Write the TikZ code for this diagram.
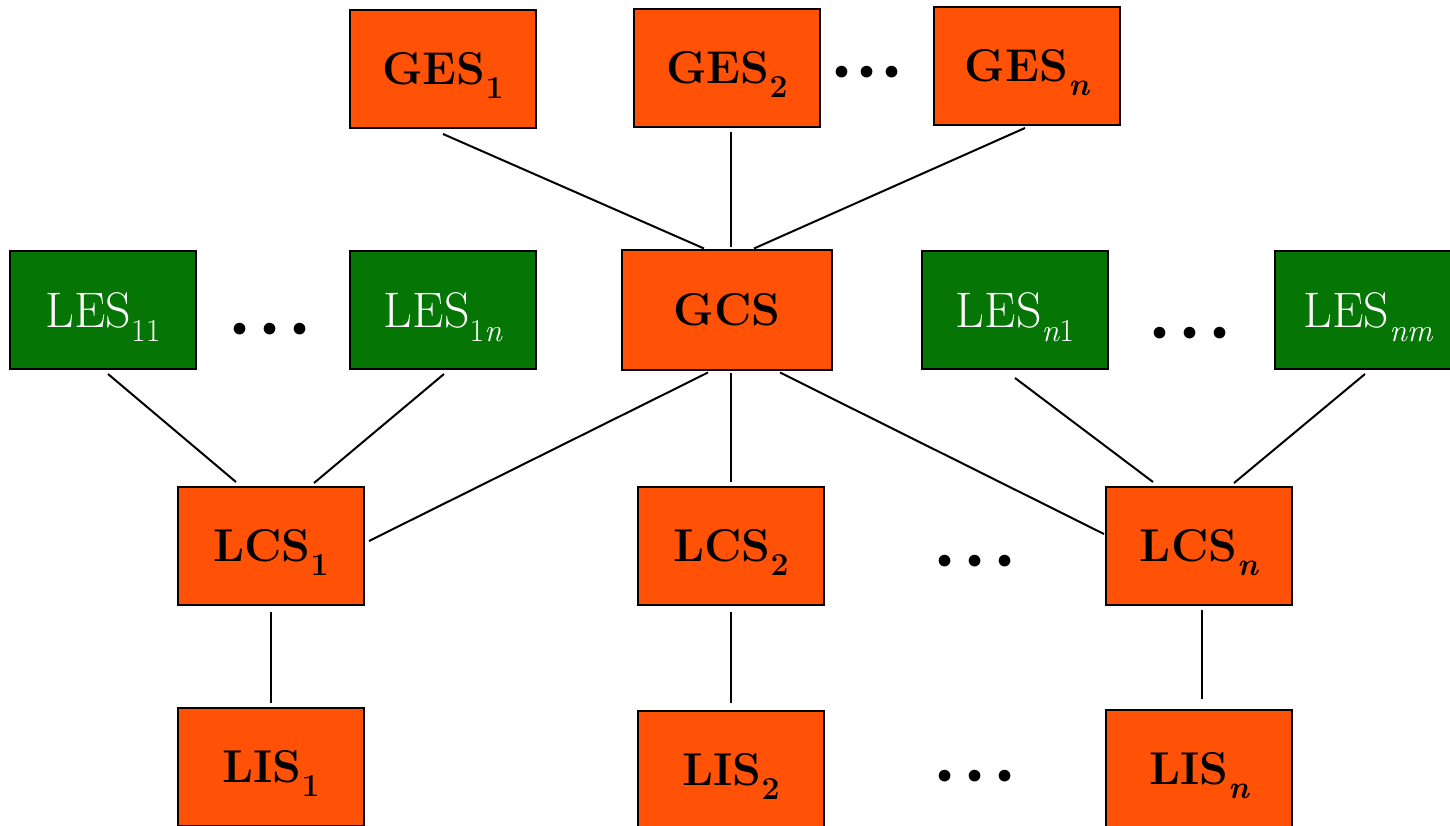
\documentclass[tikz,border=0pt]{standalone}
\usepackage{fontspec}
\usetikzlibrary{calc}
\definecolor{orangebox}{HTML}{FF5206}
\definecolor{greenbox}{HTML}{057605}
\newcommand{\sbx}[1]{\raisebox{-14pt}[0pt][0pt]{\fontsize{32}{34}\selectfont #1}}
\newcommand{\threedots}[1]{\textbullet\hspace{#1}\textbullet\hspace{#1}\textbullet}
\begin{document}
\begin{tikzpicture}[x=1pt,y=-1pt,
  obox/.style={draw=black,line width=2pt,fill=orangebox,minimum width=186pt,minimum height=118pt,inner sep=0pt,
    font=\fontsize{46}{50}\selectfont\bfseries,text=black},
  gbox/.style={draw=black,line width=2pt,fill=greenbox,minimum width=186pt,minimum height=118pt,inner sep=0pt,
    font=\fontsize{50}{54}\selectfont,text=white},
  dotsnode/.style={inner sep=0pt,font=\fontsize{40}{42}\selectfont\bfseries},
  link/.style={line width=2pt,black}]
\useasboundingbox (0,0) rectangle (1450,826);
% top row
\node[obox] (ges1) at (443,69) {GES\sbx{1}};
\node[obox] (ges2) at (727,68) {GES\sbx{2}};
\node[obox] (gesn) at (1027,66) {GES\sbx{\itshape n}};
\node[dotsnode] (d1) at (867,74) {\threedots{-10pt}};
% second row
\node[gbox] (les11) at (103,310) {LES\sbx{11}};
\node[dotsnode] (d2) at (270,331) {\threedots{-5pt}};
\node[gbox] (les1n) at (443,310) {LES\sbx{1\itshape n}};
\node[obox,minimum width=210pt,minimum height=119pt] (gcs) at (727,310) {GCS};
\node[gbox] (lesn1) at (1015,310) {LES\sbx{\itshape n\upshape 1}};
\node[dotsnode] (d3) at (1190,335) {\threedots{-5pt}};
\node[gbox] (lesnm) at (1368,310) {LES\sbx{\itshape nm}};
% third row
\node[obox] (lcs1) at (271,546) {LCS\sbx{1}};
\node[obox] (lcs2) at (731,546) {LCS\sbx{2}};
\node[dotsnode] (d4) at (975,563) {\threedots{-5pt}};
\node[obox] (lcsn) at (1199,546) {LCS\sbx{\itshape n}};
% bottom row
\node[obox] (lis1) at (271,767) {LIS\sbx{1}};
\node[obox] (lis2) at (731,770) {LIS\sbx{2}};
\node[dotsnode] (d5) at (975,778) {\threedots{-5pt}};
\node[obox] (lisn) at (1199,769) {LIS\sbx{\itshape n}};
% connectors
\draw[link] ($(ges1.south)+(0,5)$) -- ($(gcs.north)+(-23,-1)$);
\draw[link] ($(ges2.south)+(4,4)$) -- ($(gcs.north)+(4,-2)$);
\draw[link] ($(gesn.south)+(-2,2)$) -- ($(gcs.north)+(27,-1)$);
\draw[link] ($(les11.south)+(5,4)$) -- ($(lcs1.north)+(-35,-4)$);
\draw[link] ($(les1n.south)+(1,4)$) -- ($(lcs1.north)+(43,-3)$);
\draw[link] ($(gcs.south)+(-19,2)$) -- ($(lcs1.east)+(4,-5)$);
\draw[link] ($(gcs.south)+(4,2)$) -- ($(lcs2.north)+(0,-4)$);
\draw[link] ($(gcs.south)+(53,2)$) -- ($(lcsn.west)+(-1,-12)$);
\draw[link] ($(lesn1.south)+(0,8)$) -- ($(lcsn.north)+(-46,-4)$);
\draw[link] ($(lesnm.south)+(-3,4)$) -- ($(lcsn.north)+(35,-3)$);
\draw[link] ($(lcs1.south)+(0,6)$) -- ($(lis1.north)+(0,-4)$);
\draw[link] ($(lcs2.south)+(0,6)$) -- ($(lis2.north)+(0,-7)$);
\draw[link] ($(lcsn.south)+(3,4)$) -- ($(lisn.north)+(3,-10)$);
\end{tikzpicture}
\end{document}
